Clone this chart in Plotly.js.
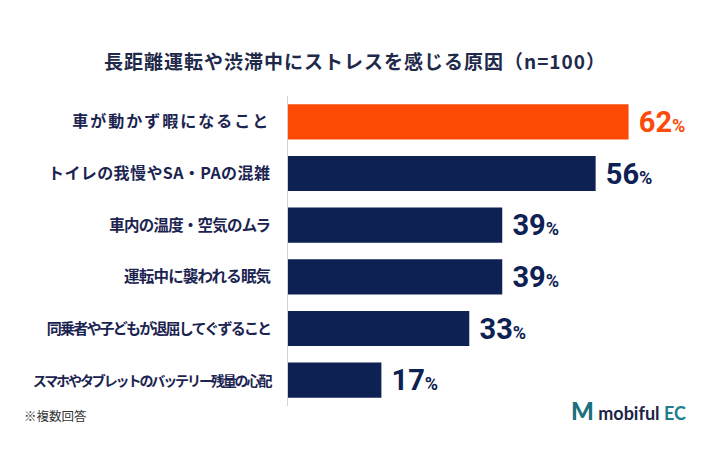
<!DOCTYPE html>
<html>
<head>
<meta charset="utf-8">
<script src="https://cdn.plot.ly/plotly-3.0.1.min.js"></script>
<style>
  html, body { margin: 0; padding: 0; background: #ffffff; }
  #chart { width: 710px; height: 474px; }
</style>
</head>
<body>
<div id="chart"></div>
<script>
// ---- data ----
const categories = [
  "車が動かず暇になること",
  "トイレの我慢やSA・PAの混雑",
  "車内の温度・空気のムラ",
  "運転中に襲われる眠気",
  "同乗者や子どもが退屈してぐずること",
  "スマホやタブレットのバッテリー残量の心配"
];
const percentages = [62, 56, 39, 39, 33, 17];
const chartTitle = "長距離運転や渋滞中にストレスを感じる原因（n=100）";
const footnote = "※複数回答";

// ---- styles ----
const ORANGE = "#fe4a07";
const NAVY = "#0d2153";
const TEXT = "#1b2450";
const labelSize = [16, 16, 15.5, 15.5, 15, 14];
const labelTracking = [2.0, 0.4, -0.8, -0.8, -1.8, -2.1];

const barColors = percentages.map((v, i) => i === 0 ? ORANGE : NAVY);
const tickText = categories.map((c, i) =>
  '<span style="font-size:' + labelSize[i] + 'px;letter-spacing:' + labelTracking[i] + 'px">' + c + '</span>');

const trace = {
  type: "bar",
  orientation: "h",
  x: percentages,
  y: categories,
  width: 0.68,
  marker: { color: barColors, line: { width: 0 } },
  texttemplate: "\u00a0%{x}<span style=\"font-size:18px\">%</span>",
  textposition: "outside",
  constraintext: "none",
  cliponaxis: false,
  textfont: { family: "Roboto, 'Liberation Sans', sans-serif", size: 29, weight: 700, color: barColors },
  hoverinfo: "none"
};

const layout = {
  width: 710,
  height: 474,
  margin: { l: 288, r: 10, t: 96, b: 68 },
  paper_bgcolor: "#ffffff",
  plot_bgcolor: "#ffffff",
  showlegend: false,
  font: { family: "'Noto Sans CJK JP', sans-serif", color: TEXT },
  title: {
    text: '<span style="letter-spacing:1px">' + chartTitle + '</span>',
    font: { family: "'Noto Sans CJK JP', sans-serif", size: 19, weight: 700, color: "#1f2a4a" },
    x: 0.5, xref: "container", xanchor: "center",
    y: 1 - 62 / 474, yref: "container", yanchor: "middle"
  },
  xaxis: {
    range: [0, 75],
    showgrid: false, zeroline: false, showline: false,
    showticklabels: false, ticks: "", fixedrange: true
  },
  yaxis: {
    type: "category",
    categoryorder: "array",
    categoryarray: categories,
    tickvals: categories,
    ticktext: tickText,
    autorange: "reversed",
    showgrid: false, zeroline: false,
    showline: true, linecolor: "#d4d4d4", linewidth: 1.5,
    ticks: "",
    ticklabelstandoff: 13,
    tickfont: { family: "'Noto Sans CJK JP', sans-serif", size: 16, weight: 700, color: TEXT },
    fixedrange: true
  },
  annotations: [
    {
      text: footnote,
      xref: "paper", yref: "paper",
      x: (22 - 288) / 412, y: -0.03,
      xanchor: "left", yanchor: "middle",
      showarrow: false,
      font: { family: "'Noto Sans CJK JP', sans-serif", size: 12.5, color: "#333333" }
    },
    {
      text: '<span style="color:#1b6f7e;font-size:24px;font-weight:900">M</span> <span style="color:#1c2448">mobiful</span> <span style="color:#1f7d8e">EC</span>',
      xref: "paper", yref: "paper",
      x: (688 - 288) / 412, y: -0.016,
      xanchor: "right", yanchor: "middle",
      showarrow: false,
      font: { family: "Lato, 'Open Sans', sans-serif", size: 18, weight: 700, color: "#1c2448" }
    }
  ]
};

Plotly.newPlot("chart", [trace], layout, { staticPlot: true, displayModeBar: false });
</script>
</body>
</html>
